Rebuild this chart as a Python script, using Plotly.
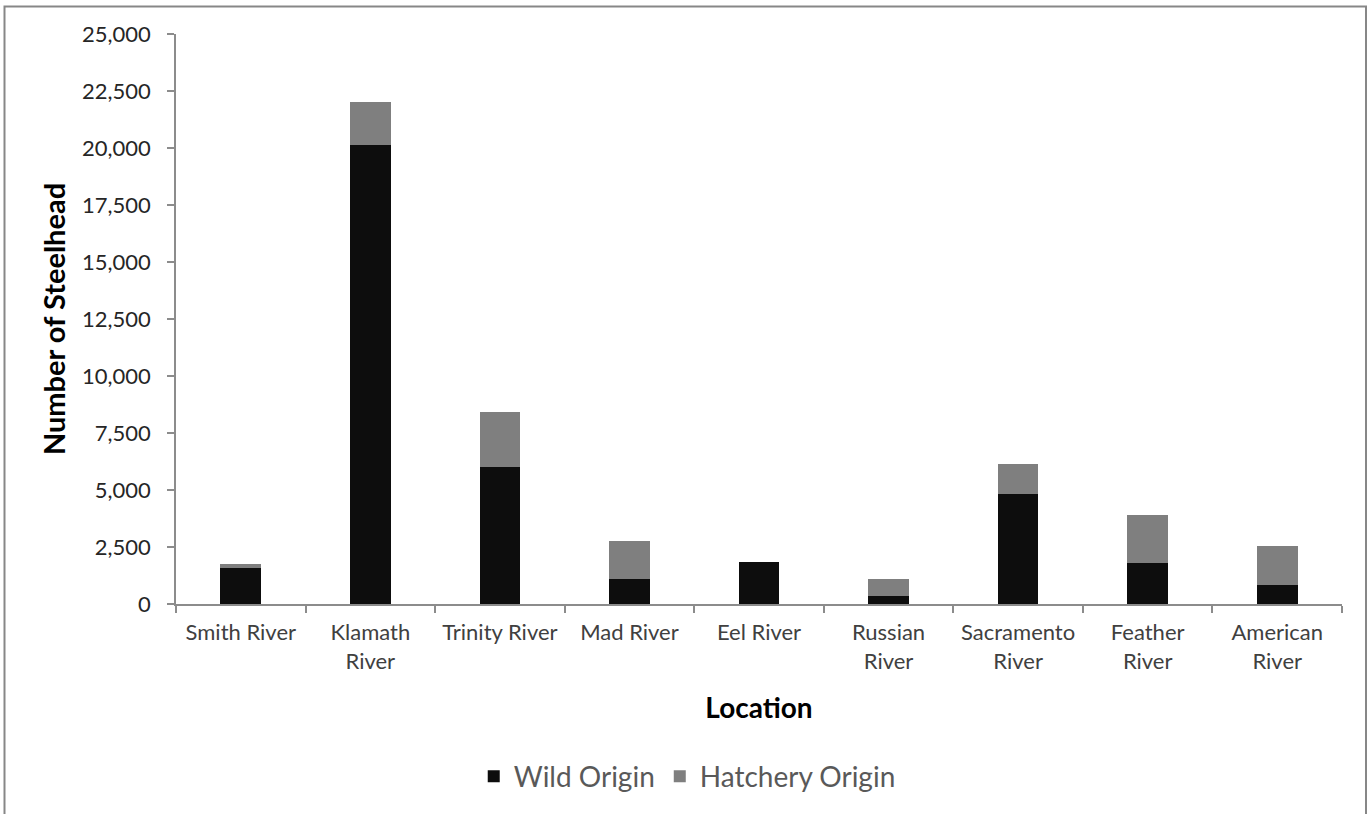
import plotly.graph_objects as go

locations = ["Smith River", "Klamath<br>River", "Trinity River", "Mad River", "Eel River",
             "Russian<br>River", "Sacramento<br>River", "Feather<br>River", "American<br>River"]
wild_origin = [1570, 20150, 6000, 1100, 1830, 350, 4820, 1810, 820]
hatchery_origin = [190, 1880, 2430, 1680, 0, 750, 1315, 2110, 1725]
y_ticks = [0, 2500, 5000, 7500, 10000, 12500, 15000, 17500, 20000, 22500, 25000]

FONT = "Lato, Open Sans, sans-serif"
W, H = 1369, 814
L, R, T, B = 176, 27, 34, 210
pw, ph = W - L - R, H - T - B

fig = go.Figure()
fig.add_trace(go.Bar(name="Wild Origin", x=locations, y=wild_origin,
                     marker=dict(color="#0d0d0d", line=dict(width=0))))
fig.add_trace(go.Bar(name="Hatchery Origin", x=locations, y=hatchery_origin,
                     marker=dict(color="#7f7f7f", line=dict(width=0))))

def px_x(p):
    return (p - L) / pw

def px_y(p):
    return (H - B - p) / ph

fig.add_shape(type="rect", xref="paper", yref="paper",
              x0=px_x(4.5), x1=px_x(1366), y0=px_y(840), y1=px_y(6.5),
              line=dict(color="#878787", width=2), fillcolor="rgba(0,0,0,0)", layer="below")

fig.update_layout(
    width=W, height=H,
    barmode="stack", bargap=0.686,
    margin=dict(l=L, r=R, t=T, b=B, pad=0),
    paper_bgcolor="white", plot_bgcolor="white",
    font=dict(family=FONT, color="#404040", size=22),
    legend=dict(orientation="h", xref="container", yref="container", x=0.502, y=0.046,
                xanchor="center", yanchor="middle",
                font=dict(size=28, color="#595959", family=FONT), traceorder="normal",
                itemwidth=30, tracegroupgap=0),
    xaxis=dict(showline=True, linecolor="#8c8c8c", linewidth=1.5,
               ticks="outside", tickson="boundaries", ticklen=7, tickcolor="#8c8c8c", tickwidth=1.5,
               tickfont=dict(size=22, color="#404040", family=FONT), ticklabelstandoff=8,
               title=dict(text="<b>Location</b>", font=dict(size=28, color="black", family=FONT), standoff=26),
               showgrid=False),
    yaxis=dict(range=[0, 25000], tickvals=y_ticks, tickformat=",", showline=True,
               linecolor="#8c8c8c", linewidth=1.5, ticks="outside", ticklen=7,
               tickcolor="#8c8c8c", tickwidth=1.5, showgrid=False, zeroline=False,
               tickfont=dict(size=22, color="#262626", family=FONT), ticklabelstandoff=12,
               title=dict(text="<b>Number of Steelhead</b>", font=dict(size=29, color="black", family=FONT), standoff=8)),
)

fig.write_html("out.html", config={"displayModeBar": False},
               post_script="document.body.style.margin='0';document.body.style.overflow='hidden';")
